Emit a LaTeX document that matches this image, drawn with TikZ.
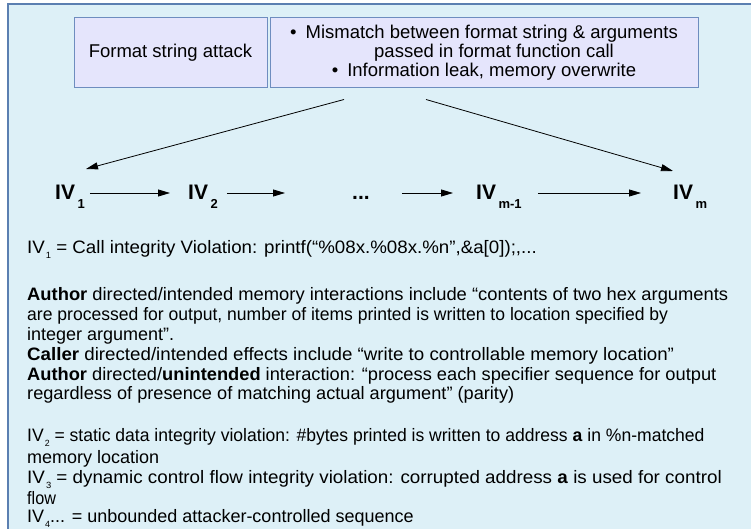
\documentclass[tikz,border=0pt]{standalone}
\usepackage{fontspec}
\usepackage{graphicx}
\setmainfont{Liberation Sans}
\usetikzlibrary{arrows.meta}
\definecolor{panelbg}{HTML}{DDF0F7}
\definecolor{panelline}{HTML}{5B7FB1}
\definecolor{boxfill}{HTML}{E5E5FC}
\definecolor{boxline}{HTML}{6E8DBF}
% lowered subscripts used in the chain and in the notes
\newcommand{\chainsub}[1]{\kern2.5pt\raisebox{-9pt}{\fontsize{13}{13}\selectfont\bfseries #1}}
\newcommand{\notesub}[1]{\kern1pt\raisebox{-5pt}{\fontsize{9}{9}\selectfont #1}}
% one line of the notes, stretched horizontally by #1
\newcommand{\noteline}[2]{\scalebox{#1}[1]{#2}}
\begin{document}
\begin{tikzpicture}[x=1pt,y=-1pt,
  box/.style={draw=boxline, line width=1pt, fill=boxfill, inner sep=0pt,
    align=center, minimum height=70pt, font=\fontsize{18.5}{19}\selectfont},
  ivnode/.style={font=\fontsize{21}{21}\selectfont\bfseries, inner sep=0pt, anchor=base west},
  arr/.style={-{Triangle[length=12pt,width=7pt]}, line width=0.8pt},
  note/.style={font=\fontsize{18}{20}\selectfont, inner sep=0pt, anchor=base west},
]
\useasboundingbox (0,0) rectangle (751,529);
\clip (0,0) rectangle (751,529);
\fill[white] (0,0) rectangle (751,529);
\filldraw[fill=panelbg, draw=panelline, line width=1.5pt] (8,4) rectangle (780,560);

% header boxes
\node[box, minimum width=193pt] (attack) at (170.5,53) {Format string attack};
\node[box, minimum width=428pt] (cause) at (484,53)
  {•\hspace{9pt}Mismatch between format string \& arguments\\
   \hspace*{20pt}passed in format function call\\
   •\hspace{9pt}Information leak, memory overwrite};

% chain of integrity violations
\node[ivnode] (iv1) at (55,200) {IV\chainsub{1}};
\node[ivnode] (iv2) at (188,200) {IV\chainsub{2}};
\node[ivnode] (dots) at (352,200) {...};
\node[ivnode] (ivm1) at (476,200) {IV\chainsub{m-1}};
\node[ivnode] (ivm) at (673,200) {IV\chainsub{m}};

\coordinate (row) at (0,193);
\draw[arr, shorten <=5pt, shorten >=18pt] (iv1.east |- row) -- (iv2.west |- row);
\draw[arr, shorten <=9pt, shorten >=67pt] (iv2.east |- row) -- (dots.west |- row);
\draw[arr, shorten <=32pt, shorten >=23pt] (dots.east |- row) -- (ivm1.west |- row);
\draw[arr, shorten <=16pt, shorten >=32pt] (ivm1.east |- row) -- (ivm.west |- row);

\coordinate (fromL) at ([shift={(-140,11)}]cause.south);
\coordinate (fromR) at ([shift={(-58,11)}]cause.south);
\coordinate (toL) at ([shift={(31,-31)}]iv1.base west);
\coordinate (toR) at ([shift={(0,-29)}]ivm.base west);
\draw[arr] (fromL) -- (toL);
\draw[arr] (fromR) -- (toR);

% notes
\node[note] (n1) at (27,253) {\noteline{1.04}{IV\notesub{1} = Call integrity Violation: printf(“\%08x.\%08x.\%n”,\&a[0]);,...}};
\node[note] (n2) at (27,300) {\noteline{1.02}{\textbf{Author} directed/intended memory interactions include “contents of two hex arguments}};
\node[note] (n3) at (27,320) {\noteline{0.975}{are processed for output, number of items printed is written to location specified by}};
\node[note] (n4) at (27,340) {integer argument”.};
\node[note] (n5) at (27,360) {\noteline{1.04}{\textbf{Caller} directed/intended effects include “write to controllable memory location”}};
\node[note] (n6) at (27,380) {\noteline{1.015}{\textbf{Author} directed/\textbf{unintended} interaction: “process each specifier sequence for output}};
\node[note] (n7) at (27,399) {\noteline{1.01}{regardless of presence of matching actual argument” (parity)}};
\node[note] (n8) at (27,441) {\noteline{0.975}{IV\notesub{2} = static data integrity violation: \#bytes printed is written to address \textbf{a} in \%n-matched}};
\node[note] (n9) at (27,463) {memory location};
\node[note] (n10) at (27,483) {\noteline{1.045}{IV\notesub{3} = dynamic control flow integrity violation: corrupted address \textbf{a} is used for control}};
\node[note] (n11) at (27,504) {\noteline{0.9}{flow}};
\node[note] (n12) at (27,522) {IV\notesub{4}... = unbounded attacker-controlled sequence};
\end{tikzpicture}
\end{document}
